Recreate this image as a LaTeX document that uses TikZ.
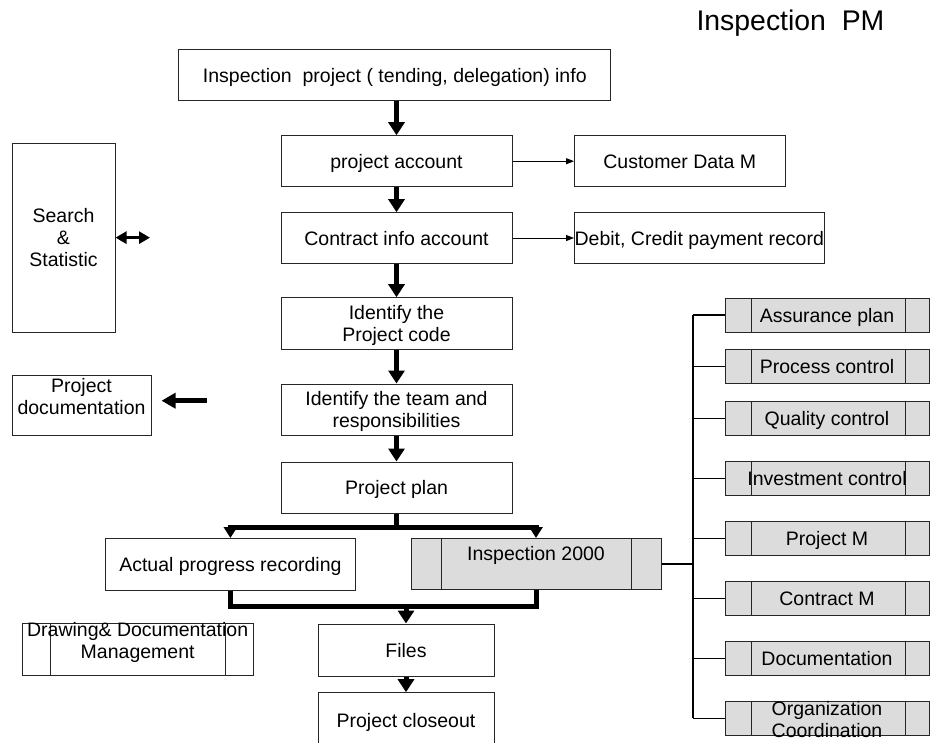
\documentclass[tikz,border=0pt]{standalone}
\usepackage{fontspec}
\setmainfont{Liberation Sans}
\usetikzlibrary{arrows.meta}
\definecolor{panel}{HTML}{DCDCDC}
\definecolor{edge}{HTML}{262626}
\begin{document}
\begin{tikzpicture}[x=1pt,y=-1pt,
  every node/.style={font=\fontsize{19.5}{22}\selectfont},
  box/.style 2 args={draw=edge, line width=1pt, fill=white, inner sep=0pt,
    minimum width=#1, minimum height=#2},
  capcenter/.style={text height=17pt, text depth=3pt},
  multi/.style={align=center, text depth=0pt},
  greyfill/.style={fill=panel},
  bars/.style 2 args={path picture={
    \draw[line width=1pt, draw=edge]
      ([xshift=#1]path picture bounding box.north west) -- ([xshift=#1]path picture bounding box.south west)
      ([xshift=-#2]path picture bounding box.north east) -- ([xshift=-#2]path picture bounding box.south east);}},
  module/.style={box={204pt}{34pt}, greyfill, bars={26pt}{24pt}, capcenter},
  flow/.style={line width=5pt, -{Triangle[width=16pt,length=13pt]}},
  fork/.style={line width=5pt, -{Triangle[width=13pt,length=11pt]}},
  thinarrow/.style={line width=1pt, -{Triangle[width=6pt,length=8pt]}},
  wire/.style={line width=1.3pt},
]
\useasboundingbox (0,0) rectangle (931,742);
\clip (0,0) rectangle (931,742);

% heading
\node[anchor=base west, font=\fontsize{28.4}{34}\selectfont] (title) at (693,30) {Inspection\ \ PM};

% main flow
\node[box={432pt}{51.4pt}, capcenter] (info) at (394.8,75) {Inspection\ \ project ( tending, delegation) info};
\node[box={231pt}{51pt}, capcenter] (acct) at (396.5,161.2) {project account};
\node[box={210.5pt}{51pt}, capcenter] (cust) at (679.75,161.2) {Customer Data M};
\node[box={231pt}{50.6pt}, capcenter] (contract) at (396.5,238) {Contract info account};
\node[box={249.5pt}{50.6pt}, capcenter] (debit) at (699.25,238) {Debit, Credit payment record};
\node[box={231pt}{51.6pt}, multi] (code) at (396.5,323.5) {Identify the\\Project code};
\node[box={231pt}{51.5pt}, multi] (team) at (396.5,409.75) {Identify the team and\\responsibilities};
\node[box={231pt}{51pt}, capcenter] (plan) at (396.5,487.5) {Project plan};
\node[box={250.2pt}{51.5pt}, capcenter] (actual) at (230.4,564.25) {Actual progress recording};
\node[box={250pt}{51pt}, greyfill, bars={30pt}{30pt},
  label={[capcenter,yshift=11pt]center:Inspection 2000}] (insp) at (536,564) {};
\node[box={176pt}{52pt}, capcenter] (files) at (406,650) {Files};
\node[box={176pt}{54.6pt}, capcenter] (close) at (406,720) {Project closeout};

% left column
\node[box={103pt}{188.7pt}, multi] (search) at (63.5,237.65) {Search\\\&\\Statistic};
\node[box={139pt}{60.3pt},
  label={[multi,yshift=9.15pt]center:{Project\\documentation}}] (pdoc) at (81.5,405.15) {};
\node[box={231.3pt}{52.4pt}, bars={28pt}{28pt},
  label={[multi,yshift=9pt]center:{Drawing\& Documentation\\Management}}] (dms) at (137.65,649.5) {};

% module column
\node[module] (m1) at (827,315) {Assurance plan};
\node[module] (m2) at (827,366.3) {Process control};
\node[module] (m3) at (827,418.7) {Quality control};
\node[module] (m4) at (827,478.3) {Investment control};
\node[module] (m5) at (827,538.3) {Project M};
\node[module] (m6) at (827,598.7) {Contract M};
\node[module] (m7) at (827,658.3) {Documentation};
\node[module, label={[multi,yshift=-0.8pt]center:{Organization\\Coordination}}] (m8) at (827,718.2) {};

% connectors of the main flow
\draw[flow] (acct.north |- info.south) -- (acct.north);
\draw[flow] (acct) -- (contract);
\draw[flow] (contract) -- (code);
\draw[flow] (code) -- (team);
\draw[flow] (team) -- (plan);
\draw[thinarrow] (acct) -- (cust);
\draw[thinarrow] (contract) -- (debit);

\draw[fork] (plan.south) -- ++(0,14) -| (actual.north);
\draw[fork] (plan.south) -- ++(0,14) -| (insp.north);

\coordinate (join) at (406,606.7);
\draw[line width=5pt] (actual.south) |- (join) -| (insp.south);
\draw[flow] (join) -- (files.north);
\draw[flow] (files) -- (close);

% side arrows
\coordinate (sstat) at (150,237.65);
\draw[line width=3pt, {Triangle[width=12pt,length=11pt]}-{Triangle[width=12pt,length=11pt]}] (search.east) -- (sstat);
\coordinate (ptail) at (206.7,400.7);
\draw[line width=5pt, -{Triangle[width=15pt,length=14pt]}, shorten >=10pt] (ptail) -- (pdoc.east |- ptail);

% module tree
\coordinate (hub) at (693,564);
\draw[wire] (insp.east) -- (hub);
\draw[wire] (hub |- m1.west) -- (hub |- m8.west);
\foreach \k in {1,...,8} \draw[wire] (m\k.west) -- (m\k.west -| hub);
\end{tikzpicture}
\end{document}
